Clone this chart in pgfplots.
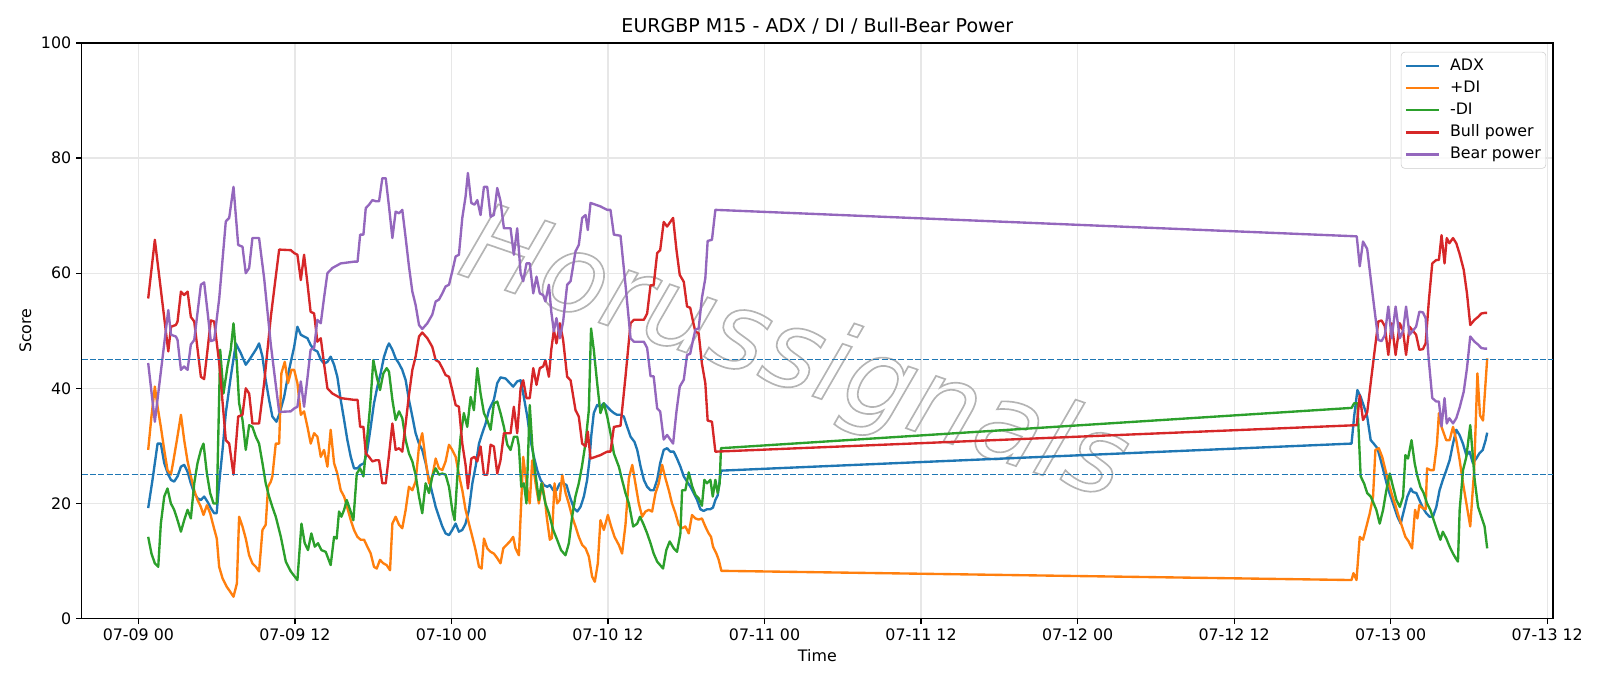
\documentclass[border=0pt]{standalone}
\usepackage{fontspec}
\setmainfont{DejaVu Sans}
\usepackage{pgfplots}
\pgfplotsset{compat=1.18}
\definecolor{C0}{HTML}{1F77B4}
\definecolor{C1}{HTML}{FF7F0E}
\definecolor{C2}{HTML}{2CA02C}
\definecolor{C3}{HTML}{D62728}
\definecolor{C4}{HTML}{9467BD}
\definecolor{gridc}{HTML}{E7E7E7}
\definecolor{wmark}{HTML}{B4B4B4}
\begin{document}
\begin{tikzpicture}
\begin{axis}[
  scale only axis, width=1059.4pt, height=414.5pt,
  xmin=-4.35, xmax=108.45, ymin=0, ymax=100,
  xtick={0,12,...,108},
  xticklabels={07-09 00,07-09 12,07-10 00,07-10 12,07-11 00,07-11 12,07-12 00,07-12 12,07-13 00,07-13 12},
  ytick={0,20,...,100},
  xtick pos=bottom, ytick pos=left,
  tick align=outside, major tick length=4pt,
  every tick/.style={black, line width=0.9pt},
  axis line style={line width=0.9pt},
  grid=major, grid style={gridc, line width=0.9pt},
  /pgf/number format/assume math mode=true,
  tick label style={font=\fontsize{11.4}{13}\selectfont},
  every axis title shift=0pt,
  title={EURGBP M15 - ADX / DI / Bull-Bear Power},
  title style={at={(axis description cs:0.5,1)}, anchor=base, yshift=7.8pt, font=\fontsize{13.7}{16}\selectfont},
  xlabel={Time}, ylabel={Score},
  xlabel style={at={(axis description cs:0.5,-0.0651)}, anchor=center, font=\fontsize{11.4}{13}\selectfont},
  ylabel style={at={(axis description cs:-0.0382,0.5)}, anchor=center, rotate=0, font=\fontsize{11.4}{13}\selectfont},
  legend style={at={(axis description cs:1,1)}, anchor=north east, xshift=-5pt, yshift=-6.5pt,
    draw=black!20, rounded corners=2.5pt, fill=white, fill opacity=0.8, text opacity=1,
    inner xsep=2.6pt, inner ysep=3.8pt, row sep=3.5pt, column sep=5.9pt, font=\fontsize{11.4}{13}\selectfont,
    nodes={inner sep=1pt, text height=8.2pt, text depth=2.2pt}},
  legend cell align=left,
  legend image code/.code={\draw[#1] (0pt,0pt) -- (24pt,0pt);},
  every axis plot/.append style={line width=1.7pt, line join=round},
]
% watermark (outlined text)
\node[rotate=-19, text=wmark, font=\fontsize{78}{78}\selectfont\itshape] at (axis cs:50.2,45.3) {\special{pdf:literal direct 1 Tr 1.2 w}Horussignals};

% ADX
\addplot[C0] coordinates {
(0.75,19.2)(1.08,24.1)(1.47,30.4)(1.72,30.4)(1.98,27.0)(2.29,25.0)(2.49,24.1)(2.74,23.8)(3.0,24.7)(3.26,26.4)(3.51,26.7)(3.77,25.5)(4.02,23.5)(4.28,21.8)(4.53,20.9)(4.79,20.6)(5.04,21.2)(5.3,20.3)(5.55,19.2)(5.81,18.3)(6.0,18.3)(6.19,23.5)(6.45,29.3)(6.7,35.7)(7.08,42.0)(7.47,47.8)(7.85,46.1)(8.23,44.1)(8.49,44.9)(8.74,45.8)(9.0,46.7)(9.25,47.8)(9.51,45.5)(9.76,41.4)(10.02,38.0)(10.27,35.1)(10.58,34.2)(10.83,35.7)(11.17,38.5)(11.55,43.2)(11.94,47.2)(12.19,50.7)(12.45,49.3)(12.7,49.0)(12.96,48.7)(13.21,47.5)(13.47,46.7)(13.72,46.4)(13.98,45.0)(14.23,44.3)(14.49,44.6)(14.74,45.5)(15.0,44.1)(15.25,42.0)(15.51,38.0)(15.77,34.5)(16.02,31.0)(16.28,28.1)(16.53,26.1)(16.79,26.1)(17.04,26.7)(17.3,27.0)(17.55,29.3)(17.81,33.3)(18.06,37.4)(18.32,40.3)(18.57,42.6)(18.83,45.5)(19.08,47.2)(19.21,47.8)(19.47,46.7)(19.72,45.2)(19.98,44.3)(20.23,43.2)(20.49,41.4)(20.74,38.0)(21.0,35.1)(21.25,32.2)(21.51,30.4)(21.76,29.3)(22.02,27.0)(22.28,24.1)(22.53,21.8)(22.79,19.4)(23.04,17.7)(23.3,16.0)(23.55,14.8)(23.81,14.5)(24.06,15.4)(24.32,16.5)(24.57,15.1)(24.83,15.4)(25.08,16.5)(25.34,18.9)(25.6,23.5)(25.85,26.4)(26.11,30.4)(26.36,32.2)(26.62,33.9)(26.87,36.2)(27.25,38.0)(27.51,40.9)(27.76,41.9)(28.15,41.7)(28.48,40.9)(28.73,40.3)(29.04,41.2)(29.3,41.4)(29.5,39.1)(29.81,35.1)(30.06,31.0)(30.32,28.1)(30.57,25.8)(30.83,24.1)(31.08,23.2)(31.34,22.9)(31.54,23.2)(31.8,22.3)(32.05,22.3)(32.31,23.5)(32.56,23.5)(32.82,23.2)(33.07,21.2)(33.38,19.2)(33.64,18.6)(33.89,19.4)(34.15,21.2)(34.4,24.1)(34.58,27.5)(34.71,31.6)(34.91,35.7)(35.17,37.1)(35.42,36.8)(35.68,37.4)(35.94,36.8)(36.19,36.2)(36.45,35.7)(36.7,35.4)(36.96,35.4)(37.21,35.1)(37.47,33.3)(37.73,31.6)(38.03,30.7)(38.24,29.3)(38.5,26.4)(38.75,24.1)(39.0,22.9)(39.26,22.3)(39.5,22.3)(39.77,24.1)(40.0,27.0)(40.27,29.3)(40.53,29.6)(40.78,29.0)(41.04,29.0)(41.29,27.8)(41.55,26.4)(41.81,24.7)(42.06,23.8)(42.32,22.9)(42.57,21.8)(42.83,20.6)(43.08,19.0)(43.33,18.7)(43.59,19.0)(43.85,19.0)(44.05,19.3)(44.23,20.6)(44.41,21.4)(44.66,25.7)
(93.0,30.4)(93.2,35.1)(93.45,39.7)(93.7,38.5)(93.96,36.8)(94.2,35.1)(94.47,31.0)(94.7,30.4)(94.98,29.6)(95.24,27.5)(95.5,25.2)(95.75,22.9)(96.0,21.2)(96.27,19.4)(96.52,17.7)(96.77,16.5)(97.03,18.9)(97.28,21.2)(97.55,22.6)(97.7,22.0)(97.97,21.8)(98.2,20.6)(98.48,19.2)(98.73,18.3)(98.98,17.7)(99.24,17.7)(99.5,19.4)(99.75,22.3)(100.0,24.1)(100.27,25.8)(100.52,27.5)(100.78,30.4)(101.03,32.8)(101.28,31.9)(101.54,30.4)(101.8,28.4)(102.05,29.0)(102.3,27.0)(102.56,27.8)(102.8,28.7)(103.06,29.3)(103.28,31.0)(103.4,32.3)
};
\addlegendentry{ADX}
% +DI
\addplot[C1] coordinates {
(0.75,29.3)(1.0,35.1)(1.26,40.3)(1.47,36.8)(1.72,33.3)(1.98,29.3)(2.23,25.8)(2.49,25.0)(2.69,27.5)(2.95,31.0)(3.26,35.4)(3.51,31.0)(3.77,27.3)(4.02,24.7)(4.28,22.3)(4.53,20.6)(4.79,19.4)(4.99,18.0)(5.25,19.7)(5.5,18.3)(5.76,16.0)(6.01,13.9)(6.19,9.0)(6.45,7.0)(6.78,5.5)(7.03,4.7)(7.29,3.8)(7.55,6.1)(7.72,17.7)(7.98,16.0)(8.23,13.9)(8.49,11.0)(8.74,9.6)(9.0,9.0)(9.25,8.2)(9.51,15.4)(9.76,16.3)(9.94,22.9)(10.15,23.8)(10.27,24.7)(10.53,30.4)(10.79,30.4)(10.96,42.6)(11.22,44.6)(11.47,40.9)(11.73,43.2)(11.94,43.2)(12.19,40.9)(12.45,35.4)(12.7,36.0)(12.96,33.3)(13.21,30.4)(13.47,32.2)(13.72,31.6)(13.98,28.1)(14.23,29.3)(14.49,26.4)(14.74,32.8)(15.0,27.0)(15.25,25.2)(15.51,22.3)(15.77,21.2)(16.02,19.2)(16.28,17.1)(16.53,15.4)(16.79,14.2)(17.04,13.7)(17.3,13.7)(17.55,12.5)(17.81,11.3)(18.06,9.0)(18.27,8.7)(18.52,10.2)(18.78,9.6)(19.03,9.3)(19.29,8.4)(19.47,16.5)(19.72,17.7)(19.98,16.3)(20.23,15.7)(20.49,18.9)(20.74,22.9)(21.0,22.3)(21.25,23.8)(21.51,29.9)(21.76,32.2)(22.02,27.5)(22.28,23.5)(22.53,24.7)(22.79,27.8)(23.04,26.1)(23.3,25.8)(23.55,27.3)(23.81,30.2)(24.06,29.3)(24.32,28.1)(24.57,25.0)(24.83,22.3)(25.08,18.9)(25.34,16.5)(25.6,14.2)(25.85,11.9)(26.11,9.0)(26.31,8.7)(26.49,13.9)(26.74,12.2)(27.0,11.6)(27.25,11.3)(27.51,10.5)(27.76,9.6)(27.97,12.2)(28.22,12.8)(28.48,13.4)(28.73,14.2)(28.91,12.2)(29.17,11.0)(29.5,28.1)(29.75,23.5)(30.0,20.0)(30.19,27.5)(30.45,23.5)(30.7,20.0)(30.96,23.5)(31.2,20.0)(31.3,17.7)(31.54,13.7)(31.7,14.0)(31.9,23.5)(32.1,20.0)(32.3,20.6)(32.49,25.0)(32.75,21.8)(32.99,20.0)(33.25,17.7)(33.51,16.0)(33.76,14.2)(34.02,12.8)(34.28,12.2)(34.53,10.8)(34.78,7.3)(34.99,6.4)(35.22,9.6)(35.42,17.1)(35.68,15.4)(35.99,18.0)(36.24,16.0)(36.5,14.2)(36.83,12.8)(37.08,11.3)(37.34,16.3)(37.6,24.4)(37.86,26.7)(38.1,23.5)(38.36,20.0)(38.62,17.7)(38.87,18.6)(39.13,18.9)(39.38,18.6)(39.64,21.8)(39.89,23.5)(40.15,26.7)(40.4,24.4)(40.66,22.3)(40.91,20.0)(41.17,18.3)(41.42,16.3)(41.68,15.7)(41.93,16.0)(42.19,14.8)(42.44,18.0)(42.7,17.4)(42.95,17.2)(43.2,17.4)(43.46,16.0)(43.72,14.8)(43.9,14.2)(44.05,12.5)(44.31,11.3)(44.49,10.2)(44.69,8.3)
(93.0,6.7)(93.15,7.9)(93.38,6.7)(93.63,14.2)(93.88,13.7)(94.14,16.0)(94.4,18.3)(94.65,21.2)(94.83,29.3)(95.09,29.6)(95.35,28.1)(95.6,25.8)(95.85,23.5)(96.1,21.5)(96.36,19.7)(96.62,17.7)(96.87,16.0)(97.13,14.2)(97.38,13.4)(97.64,12.2)(97.87,18.9)(98.05,17.4)(98.2,19.7)(98.45,19.2)(98.68,19.0)(98.79,26.1)(99.04,25.8)(99.3,25.8)(99.55,30.4)(99.7,35.7)(99.9,33.3)(100.26,31.0)(100.52,31.0)(100.78,33.3)(101.03,31.0)(101.29,27.5)(101.55,23.5)(101.85,19.4)(102.1,16.0)(102.4,25.8)(102.65,42.6)(102.85,35.3)(103.08,34.4)(103.4,45.2)
};
\addlegendentry{+DI}
% -DI
\addplot[C2] coordinates {
(0.75,14.2)(1.0,11.3)(1.26,9.6)(1.52,9.0)(1.72,16.5)(1.98,21.2)(2.23,22.6)(2.49,20.0)(2.74,18.9)(3.0,17.1)(3.26,15.1)(3.51,17.1)(3.77,18.9)(4.02,17.4)(4.28,23.5)(4.53,27.0)(4.79,29.3)(4.99,30.4)(5.25,25.2)(5.5,21.8)(5.76,20.0)(6.01,20.0)(6.27,46.7)(6.52,39.1)(6.83,43.8)(7.08,46.7)(7.29,51.3)(7.55,44.3)(7.72,37.4)(7.98,34.5)(8.23,29.3)(8.49,33.6)(8.74,33.3)(9.0,31.6)(9.25,30.4)(9.51,27.0)(9.76,23.5)(10.02,21.2)(10.27,19.4)(10.53,17.7)(10.92,14.2)(11.3,9.9)(11.68,8.2)(12.19,6.7)(12.5,16.5)(12.75,13.1)(13.0,11.9)(13.26,14.8)(13.52,12.5)(13.77,13.1)(14.03,11.9)(14.36,11.6)(14.74,9.3)(15.0,14.2)(15.2,13.9)(15.38,18.6)(15.56,17.7)(15.77,18.9)(15.97,20.6)(16.23,18.9)(16.48,17.1)(16.74,25.2)(17.0,26.1)(17.25,24.7)(17.5,30.4)(17.76,36.8)(18.01,44.9)(18.27,42.0)(18.52,39.7)(18.78,42.6)(19.03,43.5)(19.21,42.9)(19.47,38.0)(19.72,34.5)(19.98,36.0)(20.23,34.8)(20.49,31.0)(20.74,28.7)(21.0,27.3)(21.25,25.0)(21.51,21.2)(21.76,18.3)(22.02,23.5)(22.28,21.8)(22.53,24.7)(22.79,26.1)(23.04,25.0)(23.3,25.2)(23.55,25.0)(23.81,22.9)(24.06,18.9)(24.24,17.1)(24.45,24.7)(24.7,31.6)(24.95,35.7)(25.21,33.3)(25.47,38.5)(25.72,36.2)(25.98,43.5)(26.23,39.1)(26.49,35.7)(26.74,34.5)(27.0,32.8)(27.25,37.4)(27.51,37.7)(27.76,35.7)(28.02,33.3)(28.28,30.2)(28.53,29.3)(28.79,31.6)(29.04,31.6)(29.17,29.9)(29.35,22.9)(29.55,23.5)(29.75,20.0)(30.0,37.1)(30.2,29.9)(30.4,25.8)(30.7,20.6)(30.9,23.5)(31.2,20.0)(31.47,18.3)(31.8,15.4)(32.1,13.7)(32.4,11.9)(32.74,11.0)(33.0,13.1)(33.25,17.7)(33.5,21.2)(33.76,23.5)(34.0,26.4)(34.27,30.4)(34.53,36.2)(34.62,43.8)(34.7,50.4)(34.91,46.7)(35.17,40.9)(35.42,35.7)(35.68,37.4)(35.94,35.1)(36.19,32.2)(36.45,28.7)(36.83,26.4)(37.08,24.1)(37.34,21.8)(37.6,20.0)(37.93,16.0)(38.24,16.5)(38.45,17.7)(38.7,16.5)(39.0,14.8)(39.26,13.1)(39.5,11.3)(39.77,9.9)(40.22,8.7)(40.47,11.9)(40.73,13.4)(41.04,12.2)(41.29,11.6)(41.55,14.8)(41.68,22.3)(41.93,22.3)(42.19,25.4)(42.45,23.0)(42.7,21.5)(42.95,20.9)(43.2,19.6)(43.39,24.1)(43.59,23.5)(43.85,24.1)(44.03,21.2)(44.23,24.1)(44.41,21.8)(44.56,23.5)(44.66,29.6)
(93.0,36.6)(93.2,37.4)(93.45,37.4)(93.7,24.7)(93.96,23.5)(94.2,21.8)(94.47,21.2)(94.7,20.0)(94.9,18.9)(95.16,16.5)(95.42,18.9)(95.67,22.3)(95.93,25.2)(96.18,22.9)(96.44,20.6)(96.7,19.4)(96.95,21.2)(97.13,28.4)(97.33,27.8)(97.6,31.0)(97.84,27.0)(98.02,25.0)(98.28,22.9)(98.53,21.8)(98.79,20.0)(99.04,18.9)(99.3,17.1)(99.55,15.4)(99.81,13.7)(100.0,15.1)(100.27,13.9)(100.52,12.5)(100.78,11.3)(100.98,10.5)(101.16,9.9)(101.29,18.9)(101.55,25.8)(101.8,28.1)(102.1,33.6)(102.26,29.3)(102.44,24.1)(102.7,19.4)(102.95,17.7)(103.2,16.0)(103.4,12.2)
};
\addlegendentry{-DI}
% Bull power
\addplot[C3] coordinates {
(0.75,55.6)(1.26,65.8)(2.29,46.4)(2.5,50.7)(2.87,51.0)(3.0,51.6)(3.26,56.8)(3.5,56.2)(3.77,56.8)(4.02,52.4)(4.28,51.6)(4.79,42.0)(5.04,41.6)(5.3,46.7)(5.55,51.8)(5.81,51.6)(6.2,44.3)(6.7,31.0)(6.96,30.4)(7.29,25.0)(7.65,35.1)(7.98,35.4)(8.23,40.0)(8.49,39.1)(8.74,33.9)(9.25,33.9)(9.64,40.9)(10.15,52.4)(10.53,59.4)(10.79,64.1)(11.68,64.0)(11.94,63.5)(12.19,63.2)(12.45,58.8)(12.7,63.2)(12.96,58.2)(13.2,53.3)(13.47,53.0)(13.72,48.1)(13.98,48.7)(14.23,44.3)(14.49,40.0)(14.87,39.1)(15.51,38.3)(16.53,38.0)(16.8,38.0)(17.0,33.3)(17.25,33.3)(17.43,28.7)(17.68,28.1)(17.94,27.3)(18.2,27.5)(18.45,27.5)(18.7,23.5)(18.96,23.5)(19.21,28.4)(19.47,33.9)(19.72,29.3)(19.98,29.6)(20.23,29.0)(20.49,33.9)(20.74,38.8)(21.0,43.2)(21.25,45.5)(21.51,49.0)(21.76,49.7)(22.15,48.7)(22.53,47.2)(22.79,44.9)(23.04,44.6)(23.3,43.5)(23.55,42.3)(23.81,42.0)(24.06,39.7)(24.32,37.1)(24.57,36.8)(24.83,30.4)(25.08,26.7)(25.26,22.6)(25.52,27.8)(25.77,28.1)(25.98,27.3)(26.23,29.9)(26.49,25.0)(26.74,25.0)(27.0,30.2)(27.25,29.9)(27.51,25.2)(27.76,27.5)(28.02,32.2)(28.53,32.2)(28.78,36.8)(29.04,32.2)(29.3,40.0)(29.5,41.4)(29.75,38.3)(30.0,38.3)(30.27,43.5)(30.52,40.6)(30.77,43.5)(31.03,43.8)(31.2,44.9)(31.47,42.0)(31.65,46.7)(31.85,50.1)(32.05,47.8)(32.31,51.3)(32.56,48.4)(32.87,42.0)(33.13,41.4)(33.51,36.2)(33.76,35.1)(34.02,30.4)(34.28,29.9)(34.45,32.5)(34.66,27.8)(35.17,28.2)(35.42,28.4)(35.94,29.0)(36.19,29.0)(36.45,33.3)(36.96,33.5)(37.34,42.0)(37.73,51.3)(37.98,51.9)(38.75,51.9)(39.0,53.0)(39.26,57.9)(39.5,57.9)(39.77,63.5)(40.0,64.0)(40.27,68.9)(40.53,68.1)(40.99,69.6)(41.25,64.0)(41.5,59.7)(41.81,58.5)(42.06,54.2)(42.3,54.0)(42.52,51.6)(42.7,49.8)(42.95,49.6)(43.2,44.3)(43.46,40.9)(43.64,34.4)(43.97,34.2)(44.23,29.0)
(93.4,33.6)(93.63,38.8)(93.88,34.5)(94.2,35.8)(94.5,41.5)(94.78,46.7)(95.05,51.6)(95.3,51.8)(95.55,50.8)(95.82,45.8)(96.08,51.3)(96.38,45.8)(96.7,51.3)(96.95,50.0)(97.18,45.8)(97.45,50.7)(97.7,50.0)(97.95,49.3)(98.2,46.7)(98.47,46.8)(98.68,47.8)(98.93,55.3)(99.19,61.7)(99.5,62.3)(99.7,62.3)(99.9,66.6)(100.13,61.7)(100.3,66.1)(100.5,65.2)(100.78,66.1)(101.03,65.2)(101.28,63.4)(101.6,60.6)(101.85,56.5)(102.1,51.0)(102.43,51.9)(102.7,52.4)(102.95,53.0)(103.2,53.1)(103.4,53.1)
};
\addlegendentry{Bull power}
% Bear power
\addplot[C4] coordinates {
(0.75,44.4)(1.26,34.2)(2.29,53.6)(2.5,49.3)(2.87,49.0)(3.0,48.4)(3.26,43.2)(3.5,43.8)(3.77,43.2)(4.02,47.6)(4.28,48.4)(4.79,58.0)(5.04,58.4)(5.3,53.3)(5.55,48.2)(5.81,48.4)(6.2,55.7)(6.7,69.0)(6.96,69.6)(7.29,75.0)(7.65,64.9)(7.98,64.6)(8.23,60.0)(8.49,60.9)(8.74,66.1)(9.25,66.1)(9.64,59.1)(10.15,47.6)(10.53,40.6)(10.79,35.9)(11.68,36.0)(11.94,36.5)(12.19,36.8)(12.45,41.2)(12.7,36.8)(12.96,41.8)(13.2,46.7)(13.47,47.0)(13.72,51.9)(13.98,51.3)(14.23,55.7)(14.49,60.0)(14.87,60.9)(15.51,61.7)(16.53,62.0)(16.8,62.0)(17.0,66.7)(17.25,66.7)(17.43,71.3)(17.68,71.9)(17.94,72.7)(18.2,72.5)(18.45,72.5)(18.7,76.5)(18.96,76.5)(19.21,71.6)(19.47,66.1)(19.72,70.7)(19.98,70.4)(20.23,71.0)(20.49,66.1)(20.74,61.2)(21.0,56.8)(21.25,54.5)(21.51,51.0)(21.76,50.3)(22.15,51.3)(22.53,52.8)(22.79,55.1)(23.04,55.4)(23.3,56.5)(23.55,57.7)(23.81,58.0)(24.06,60.3)(24.32,62.9)(24.57,63.2)(24.83,69.6)(25.08,73.3)(25.26,77.4)(25.52,72.2)(25.77,71.9)(25.98,72.7)(26.23,70.1)(26.49,75.0)(26.74,75.0)(27.0,69.8)(27.25,70.1)(27.51,74.8)(27.76,72.5)(28.02,67.8)(28.53,67.8)(28.78,63.2)(29.04,67.8)(29.3,60.0)(29.5,58.6)(29.75,61.7)(30.0,61.7)(30.27,56.5)(30.52,59.4)(30.77,56.5)(31.03,56.2)(31.2,55.1)(31.47,58.0)(31.65,53.3)(31.85,49.9)(32.05,52.2)(32.31,48.7)(32.56,51.6)(32.87,58.0)(33.13,58.6)(33.51,63.8)(33.76,64.9)(34.02,69.6)(34.28,70.1)(34.45,67.5)(34.66,72.2)(35.17,71.8)(35.42,71.6)(35.94,71.0)(36.19,71.0)(36.45,66.7)(36.96,66.5)(37.34,58.0)(37.73,48.7)(37.98,48.1)(38.75,48.1)(39.0,47.0)(39.26,42.1)(39.5,42.1)(39.77,36.5)(40.0,36.0)(40.27,31.1)(40.53,31.9)(40.99,30.4)(41.25,36.0)(41.5,40.3)(41.81,41.5)(42.06,45.8)(42.3,46.0)(42.52,48.4)(42.7,50.2)(42.95,50.4)(43.2,55.7)(43.46,59.1)(43.64,65.6)(43.97,65.8)(44.23,71.0)
(93.4,66.4)(93.63,61.2)(93.88,65.5)(94.2,64.2)(94.5,58.5)(94.78,53.3)(95.05,48.4)(95.3,48.2)(95.55,49.2)(95.82,54.2)(96.08,48.7)(96.38,54.2)(96.7,48.7)(96.95,50.0)(97.18,54.2)(97.45,49.3)(97.7,50.0)(97.95,50.7)(98.2,53.3)(98.47,53.2)(98.68,52.2)(98.93,44.7)(99.19,38.3)(99.5,37.7)(99.7,37.7)(99.9,33.4)(100.13,38.3)(100.3,33.9)(100.5,34.8)(100.78,33.9)(101.03,34.8)(101.28,36.6)(101.6,39.4)(101.85,43.5)(102.1,49.0)(102.43,48.1)(102.7,47.6)(102.95,47.0)(103.2,46.9)(103.4,46.9)
};
\addlegendentry{Bear power}
% reference lines
\addplot[C0, line width=1.1pt, dash pattern=on 4.2pt off 1.8pt, forget plot] coordinates {(-4.35,45) (108.45,45)};
\addplot[C0, line width=1.1pt, dash pattern=on 4.2pt off 1.8pt, forget plot] coordinates {(-4.35,25) (108.45,25)};
\end{axis}
\path (current axis.south west) ++(-58.8pt,-48.5pt) coordinate (bbA);
\path (current axis.north east) ++(33.8pt,30.9pt) coordinate (bbB);
\path (bbA) rectangle (bbB);
\end{tikzpicture}
\end{document}
